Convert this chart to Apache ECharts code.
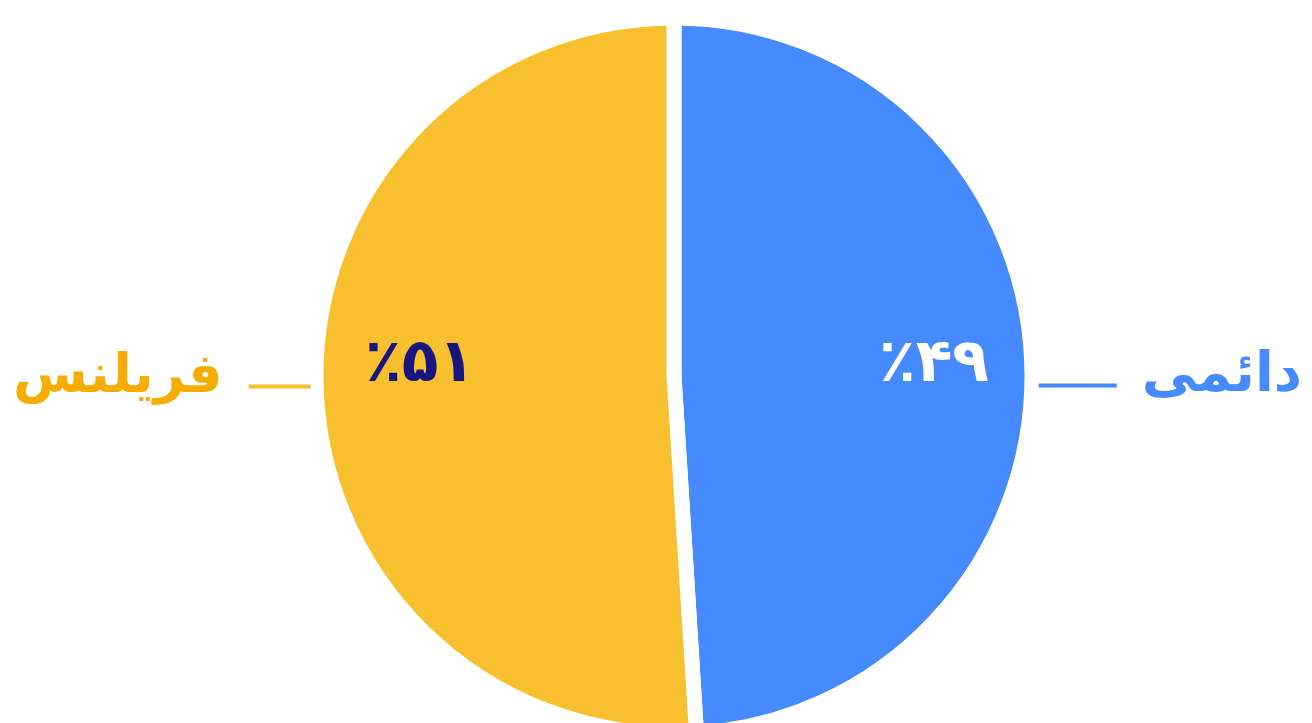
<!DOCTYPE html>
<html>
<head>
<meta charset="utf-8">
<script src="https://cdn.jsdelivr.net/npm/echarts@6/dist/echarts.min.js"></script>
<style>
html,body{margin:0;padding:0;background:#fff;}
#chart{width:1312px;height:723px;}
</style>
</head>
<body>
<div id="chart"></div>
<script>
var categories = ['دائمی', 'فریلنس'];
var values = [49, 51];
var sliceColors = ['#468AFF', '#F8BF2E'];
var nameColors = ['#468AFF', '#F7AD00'];
var lineColors = ['#468AFF', '#F8BF2E'];
var percentColors = ['#FFFFFF', '#17157F'];

function toPersian(n) {
  var d = '۰۱۲۳۴۵۶۷۸۹';
  return String(n).replace(/[0-9]/g, function (c) { return d[+c]; });
}

var CX = 674, CY = 376, R = 358;
var FONT = "'DejaVu Sans', sans-serif";

var chart = echarts.init(document.getElementById('chart'), null, { renderer: 'canvas' });
chart.setOption({
  animation: false,
  backgroundColor: '#ffffff',
  series: [
    {
      type: 'pie',
      center: [CX, CY],
      radius: [0, R],
      startAngle: 90,
      clockwise: true,
      silent: true,
      itemStyle: { borderColor: '#ffffff', borderWidth: 15 },
      data: categories.map(function (c, i) {
        return { name: c, value: values[i], itemStyle: { color: sliceColors[i] }, label: { color: percentColors[i] } };
      }),
      label: {
        show: true,
        position: 'inside',
        fontFamily: FONT,
        fontWeight: 'bold',
        fontSize: 60,
        overflow: 'none',
        formatter: function (p) { return '٪' + toPersian(p.value); }
      },
      labelLine: { show: false },
      labelLayout: function (p) {
        var right = p.dataIndex === 0;
        return { x: right ? CX + 260 : CX - 254, y: CY - 11, align: 'center', verticalAlign: 'middle' };
      }
    },
    {
      type: 'pie',
      center: [CX, CY],
      radius: [0, R],
      startAngle: 90,
      clockwise: true,
      silent: true,
      z: 3,
      itemStyle: { color: 'rgba(0,0,0,0)', borderWidth: 0 },
      data: categories.map(function (c, i) {
        return { name: c, value: values[i] };
      }),
      label: {
        show: true,
        position: 'outside',
        overflow: 'none',
        width: 600,
        fontFamily: FONT,
        fontWeight: 'bold',
        formatter: function (p) {
          return p.dataIndex === 0
            ? '{line0|}{n0|' + p.name + '}'
            : '{n1|' + p.name + '}{line1|}';
        },
        rich: {
          n0: { fontFamily: FONT, fontWeight: 'bold', fontSize: 55, color: nameColors[0], lineHeight: 21, padding: [0, 0, 0, 25] },
          n1: { fontFamily: FONT, fontWeight: 'bold', fontSize: 54, color: nameColors[1], lineHeight: 21, padding: [0, 26, 0, 0] },
          line0: { width: 78, height: 4, backgroundColor: lineColors[0], verticalAlign: 'bottom' },
          line1: { width: 62, height: 4, backgroundColor: lineColors[1], verticalAlign: 'bottom' }
        }
      },
      labelLine: { show: false },
      labelLayout: function (p) {
        var right = p.dataIndex === 0;
        return right
          ? { x: 1302, y: 377, align: 'right', verticalAlign: 'middle' }
          : { x: 13, y: 378, align: 'left', verticalAlign: 'middle' };
      }
    }
  ]
});
</script>
</body>
</html>
